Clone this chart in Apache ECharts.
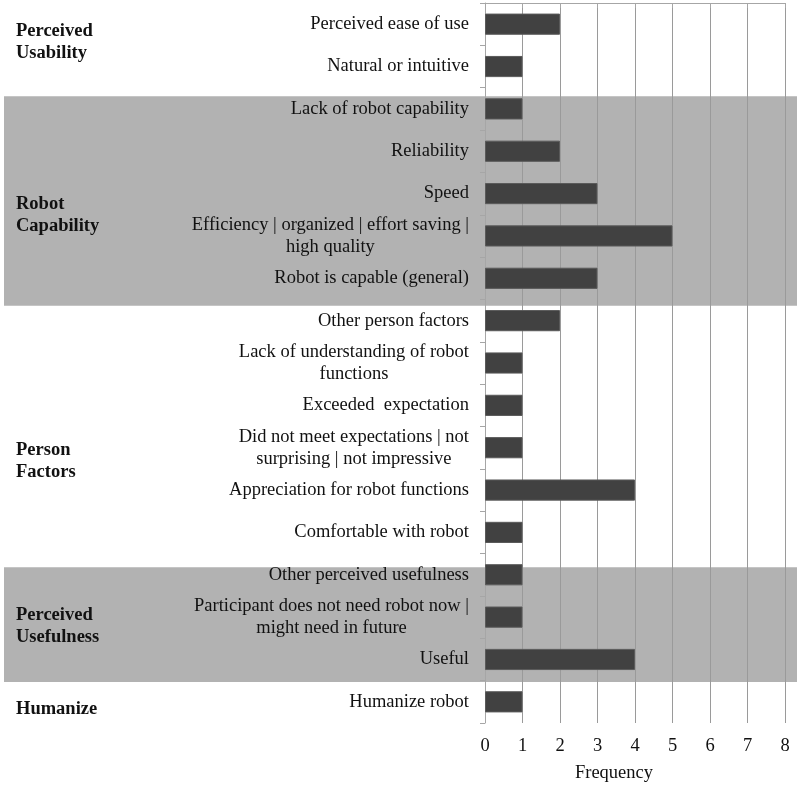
<!DOCTYPE html>
<html><head><meta charset="utf-8">
<script src="https://cdn.jsdelivr.net/npm/echarts@6/dist/echarts.min.js"></script>
<style>html,body{margin:0;padding:0;background:#fff}#c{width:800px;height:787px}</style>
</head><body><div id="c"></div>
<script>
const categories = [
  "Perceived ease of use",
  "Natural or intuitive",
  "Lack of robot capability",
  "Reliability",
  "Speed",
  "Efficiency | organized | effort saving |\nhigh quality",
  "Robot is capable (general)",
  "Other person factors",
  "Lack of understanding of robot\nfunctions",
  "Exceeded  expectation",
  "Did not meet expectations | not\nsurprising | not impressive",
  "Appreciation for robot functions",
  "Comfortable with robot",
  "Other perceived usefulness",
  "Participant does not need robot now |\nmight need in future",
  "Useful",
  "Humanize robot"
];
const frequency = [2, 1, 1, 2, 3, 5, 3, 2, 1, 1, 1, 4, 1, 1, 1, 4, 1];
const xTicks = [0, 1, 2, 3, 4, 5, 6, 7, 8];
const groupNames = ["Perceived\nUsability", "Robot\nCapability", "Person\nFactors", "Perceived\nUsefulness", "Humanize"];
const groupCenters = [0.92, 5.0, 10.83, 14.71, 16.67];
const shadedBands = [[2.2, 7.15], [13.32, 16.03]];

const FONT = "'Liberation Serif', 'Times New Roman', serif";
const FS = 18.5;
const chart = echarts.init(document.getElementById('c'), null, {renderer: 'canvas'});
const option = {
  animation: false,
  backgroundColor: '#fff',
  grid: {left: 485, right: 15, top: 3, bottom: 64, containLabel: false, outerBoundsMode: 'none'},
  xAxis: {
    type: 'value', min: xTicks[0], max: xTicks[xTicks.length - 1], interval: 1, z: 1,
    name: 'Frequency', nameLocation: 'middle', nameGap: 41,
    nameTextStyle: {fontFamily: FONT, fontSize: FS, color: '#111', padding: [0, 42, 0, 0]},
    axisLine: {show: true, lineStyle: {color: '#a6a6a6', width: 1}},
    axisTick: {show: true, length: 5, lineStyle: {color: '#a6a6a6'}},
    axisLabel: {fontFamily: FONT, fontSize: FS, color: '#111', margin: 14},
    splitLine: {show: true, lineStyle: {color: '#9a9a9a', width: 1}}
  },
  yAxis: [{
    type: 'category', data: categories, inverse: true, z: 1,
    axisLine: {show: true, lineStyle: {color: '#a6a6a6', width: 1}},
    axisTick: {show: true, length: 5, lineStyle: {color: '#a6a6a6'}},
    axisLabel: {
      fontFamily: FONT, fontSize: FS, color: '#111', margin: 16, lineHeight: 22,
      formatter: v => v.split('\n').map(s => '{c|' + s + '}').join('\n'),
      rich: {c: {align: 'center', fontFamily: FONT, fontSize: FS, color: '#111', lineHeight: 22}}
    },
    splitLine: {show: false}
  }, {
    type: 'value', min: 0, max: categories.length, inverse: true, show: false
  }],
  series: [{
    type: 'bar', data: frequency, barWidth: '50%', z: 2,
    itemStyle: {color: '#414141', borderColor: '#5a5a5a', borderWidth: 1}
  }]
};
chart.setOption(option);

function drawGraphics() {
  const els = [];
  shadedBands.forEach(b => {
    const y0 = chart.convertToPixel({yAxisIndex: 1}, b[0]);
    const y1 = chart.convertToPixel({yAxisIndex: 1}, b[1]);
    els.push({type: 'rect', z: 0, zlevel: 0, silent: true,
      shape: {x: 4, y: y0, width: 793, height: y1 - y0},
      style: {fill: '#b2b2b2'}});
  });
  groupNames.forEach((g, i) => {
    const y = chart.convertToPixel({yAxisIndex: 1}, groupCenters[i]);
    els.push({type: 'text', z: 5, x: 16, y: y,
      style: {text: g, fontFamily: FONT, fontSize: FS, fontWeight: 'bold', fill: '#111',
        lineHeight: 22, textAlign: 'left', textVerticalAlign: 'middle'}});
  });
  chart.setOption({graphic: {elements: els}});
}
drawGraphics();
</script></body></html>
